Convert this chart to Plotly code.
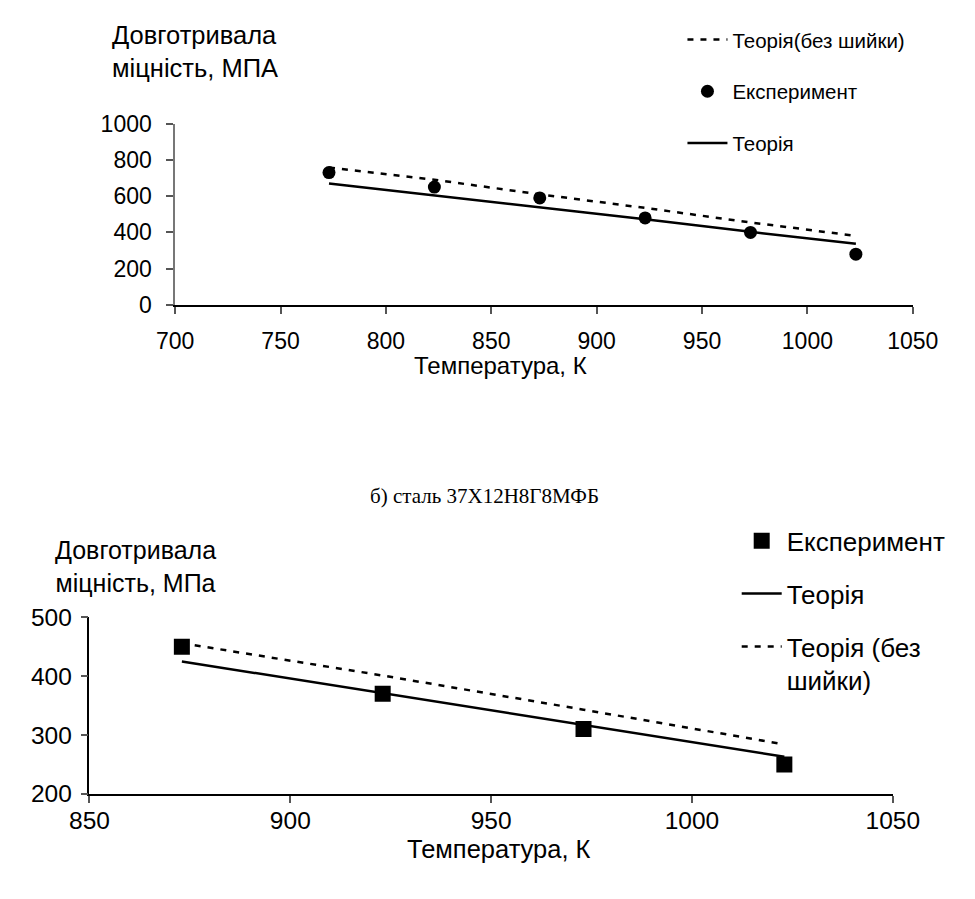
import plotly.graph_objects as go

# ---------------- data ----------------
# Top chart
temp_a = [773, 823, 873, 923, 973, 1023]
exp_a = [730, 650, 590, 480, 400, 280]
theory_a = [670, 604, 542, 472, 403, 337]
theory_noneck_a = [758, 690, 610, 535, 455, 381]

# Bottom chart: сталь 37Х12Н8Г8МФБ
temp_b = [873, 923, 973, 1023]
exp_b = [450, 370, 310, 250]
theory_b = [425, 371, 317, 263]
theory_noneck_b = [456, 401, 343, 284]

xticks_a = [700, 750, 800, 850, 900, 950, 1000, 1050]
yticks_a = [0, 200, 400, 600, 800, 1000]
xticks_b = [850, 900, 950, 1000, 1050]
yticks_b = [200, 300, 400, 500]

FONT = "Liberation Sans, Arial, sans-serif"
SERIF = "Liberation Serif, Times New Roman, serif"
W, H = 975, 899
DASH = "6px,7px"


def px_x(p):
    return p / W


def px_y(p):
    return 1 - p / H


fig = go.Figure()

# ---- top chart ----
fig.add_trace(go.Scatter(x=temp_a, y=theory_noneck_a, mode="lines", name="Теорія(без шийки)",
                         line=dict(color="black", width=2.5, dash=DASH),
                         xaxis="x", yaxis="y", legend="legend", legendgroup="a1", legendrank=1))
fig.add_trace(go.Scatter(x=temp_a, y=theory_a, mode="lines", name="Теорія",
                         line=dict(color="black", width=2.5),
                         xaxis="x", yaxis="y", legend="legend", legendgroup="a3", legendrank=3))
fig.add_trace(go.Scatter(x=temp_a, y=exp_a, mode="markers", name="Експеримент",
                         marker=dict(color="black", size=13, symbol="circle"),
                         xaxis="x", yaxis="y", legend="legend", legendgroup="a2", legendrank=2))

# ---- bottom chart ----
fig.add_trace(go.Scatter(x=temp_b, y=theory_noneck_b, mode="lines", name="Теорія (без<br>шийки)",
                         line=dict(color="black", width=2.5, dash=DASH),
                         xaxis="x2", yaxis="y2", legend="legend2", legendgroup="b3", legendrank=3))
fig.add_trace(go.Scatter(x=temp_b, y=theory_b, mode="lines", name="Теорія",
                         line=dict(color="black", width=2.5),
                         xaxis="x2", yaxis="y2", legend="legend2", legendgroup="b2", legendrank=2))
fig.add_trace(go.Scatter(x=temp_b, y=exp_b, mode="markers", name="Експеримент",
                         marker=dict(color="black", size=16, symbol="square"),
                         xaxis="x2", yaxis="y2", legend="legend2", legendgroup="b1", legendrank=1))

axis_common = dict(showgrid=False, zeroline=False, showline=True, linecolor="black", linewidth=1.5,
                   ticks="outside", ticklen=7, tickcolor="#555", tickwidth=1.5, fixedrange=True)

fig.update_layout(
    width=W, height=H,
    margin=dict(l=0, r=0, t=0, b=0),
    paper_bgcolor="white", plot_bgcolor="white",
    font=dict(family=FONT, color="black", size=22),
    xaxis=dict(domain=[px_x(163), px_x(938)], range=[700, 1050], tickvals=xticks_a,
               anchor="y", tickfont=dict(size=23), ticklabelstandoff=8, **axis_common),
    yaxis=dict(domain=[px_y(301), px_y(114)], range=[0, 1000], tickvals=yticks_a,
               anchor="x", tickfont=dict(size=23), ticklabelstandoff=10,
               **{**axis_common, "linecolor": "#777"}),
    xaxis2=dict(domain=[px_x(73), px_x(917)], range=[850, 1050], tickvals=xticks_b,
                anchor="y2", tickfont=dict(size=24.5), ticklabelstandoff=-3, **axis_common),
    yaxis2=dict(domain=[px_y(805), px_y(623)], range=[200, 500], tickvals=yticks_b,
                anchor="x2", tickfont=dict(size=24.5), ticklabelstandoff=4, **axis_common),
    legend=dict(x=px_x(696), y=px_y(7), xanchor="left", yanchor="top",
                font=dict(size=20.5), tracegroupgap=22, bgcolor="rgba(0,0,0,0)",
                itemwidth=40, traceorder="grouped"),
    legend2=dict(x=px_x(753), y=px_y(520), xanchor="left", yanchor="top",
                 font=dict(size=26), tracegroupgap=16, bgcolor="rgba(0,0,0,0)",
                 itemwidth=40, traceorder="grouped", valign="top"),
    showlegend=True,
)

annotations = [
    dict(text="Довготривала<br>міцність, МПА", x=px_x(95), y=px_y(40), xanchor="left", yanchor="middle",
         align="left", showarrow=False, font=dict(size=25.5)),
    dict(text="Температура, К", x=px_x(505), y=px_y(363), xanchor="center", yanchor="middle",
         showarrow=False, font=dict(size=24)),
    dict(text="б) сталь 37Х12Н8Г8МФБ", x=px_x(488), y=px_y(498), xanchor="center", yanchor="middle",
         showarrow=False, font=dict(size=21, family=SERIF)),
    dict(text="Довготривала<br>міцність, МПа", x=px_x(121), y=px_y(571), xanchor="center", yanchor="middle",
         align="center", showarrow=False, font=dict(size=25)),
    dict(text="Температура, К", x=px_x(503), y=px_y(862), xanchor="center", yanchor="middle",
         showarrow=False, font=dict(size=25.5)),
]
for a in annotations:
    a.update(xref="paper", yref="paper")
fig.update_layout(annotations=annotations)

fig.write_html("out.html", config={"displayModeBar": False},
               post_script="document.body.style.margin='0';document.body.style.overflow='hidden';")
